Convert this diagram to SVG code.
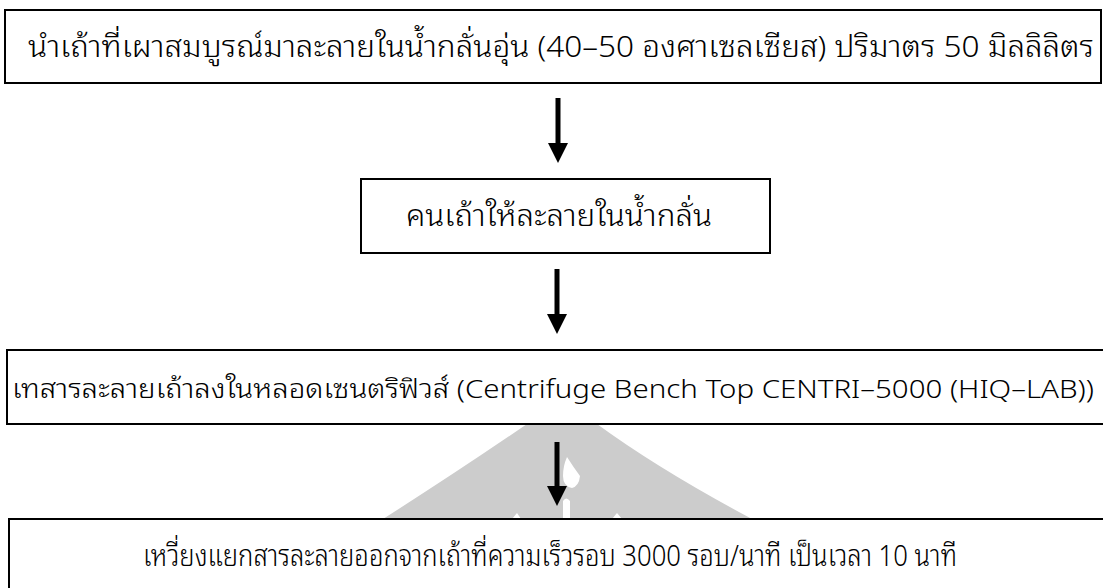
<svg xmlns="http://www.w3.org/2000/svg" width="1103" height="588" viewBox="0 0 1103 588">
<style>
.box{fill:#fff;stroke:#000;stroke-width:2}
.fill{fill:#fff}
.edge{fill:none;stroke:#000;stroke-width:2}
.t{font-family:"Noto Sans Thai Looped","Noto Sans Thai","Noto Sans","Liberation Sans",sans-serif;font-size:30px;font-weight:300;fill:#000}
.t3{font-size:26px}
.shaft{stroke:#000;stroke-width:5}
.wm{fill:#cccccc}
</style>
<defs>
<marker id="ah" markerUnits="userSpaceOnUse" markerWidth="20" markerHeight="20" refX="0" refY="10" viewBox="0 0 20 20" orient="auto">
<path d="M0,0 L20,10 L0,20 Z" fill="#000"/>
</marker>
</defs>
<rect x="0" y="0" width="1103" height="588" fill="#fff"/>
<g id="watermark">
<path class="wm" d="M527,424 L597,424 Q660,470 752,519 L383,519 Q460,470 527,424 Z"/>
<path fill="#fff" d="M567,457 Q574,468 580,476 Q579,486 572,488 Q563,486 563,476 Q563,466 567,457 Z"/>
<path fill="#fff" d="M563,519 L563,501 Q566,496 570,501 L570,519 Z"/>
<path fill="#fff" d="M512,519 L517,513 L521,519 Z"/>
<path fill="#fff" d="M612,519 L617,513 L622,519 Z"/>
</g>
<g id="node1">
<rect class="box" x="5" y="10" width="1096" height="73"/>
<text class="t" x="28" y="57" textLength="1066" lengthAdjust="spacingAndGlyphs">นำเถ้าที่เผาสมบูรณ์มาละลายในน้ำกลั่นอุ่น (40–50 องศาเซลเซียส) ปริมาตร 50 มิลลิลิตร</text>
</g>
<g id="node2">
<rect class="box" x="361" y="179" width="409" height="74"/>
<text class="t" x="406" y="226" textLength="306" lengthAdjust="spacingAndGlyphs">คนเถ้าให้ละลายในน้ำกลั่น</text>
</g>
<g id="node3">
<rect class="fill" x="7" y="350" width="1096" height="74"/>
<path class="edge" d="M1103,350 L7,350 L7,424 L1103,424"/>
<text class="t t3" x="12" y="398" textLength="1082" lengthAdjust="spacingAndGlyphs">เทสารละลายเถ้าลงในหลอดเซนตริฟิวส์ (Centrifuge Bench Top CENTRI–5000 (HIQ–LAB))</text>
</g>
<g id="node4">
<rect class="fill" x="9" y="519" width="1094" height="69"/>
<path class="edge" d="M1103,519 L9,519 L9,588"/>
<text class="t" x="143" y="566" textLength="814" lengthAdjust="spacingAndGlyphs">เหวี่ยงแยกสารละลายออกจากเถ้าที่ความเร็วรอบ 3000 รอบ/นาที เป็นเวลา 10 นาที</text>
</g>
<g id="connectors">
<line class="shaft" x1="558" y1="98" x2="558" y2="143" marker-end="url(#ah)"/>
<line class="shaft" x1="557" y1="269" x2="557" y2="314" marker-end="url(#ah)"/>
<line class="shaft" x1="557" y1="442" x2="557" y2="486" marker-end="url(#ah)"/>
</g>
</svg>
